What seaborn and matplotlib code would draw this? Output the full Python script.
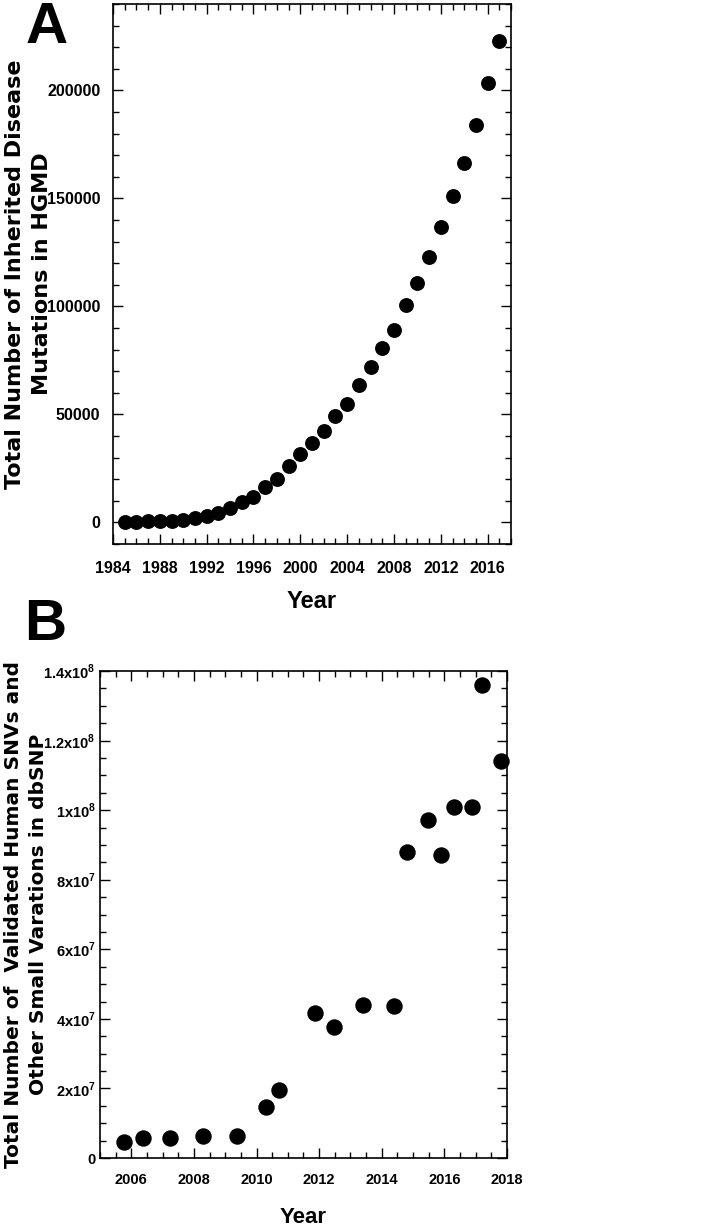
import matplotlib
matplotlib.use("Agg")
import matplotlib.pyplot as plt
import seaborn as sns
import pandas as pd
from matplotlib.ticker import MultipleLocator, FixedLocator, FixedFormatter

# ---- Panel A data (HGMD) ----
years_a = list(range(1985, 2018))
mutations_a = [0, 300, 500, 500, 700, 1250, 1900, 2800, 4300, 6700, 9400,
               11800, 16200, 20200, 26000, 31700, 37000, 42500, 49100, 55000,
               63500, 71800, 80800, 89300, 100900, 110700, 123000, 136700,
               151000, 166500, 183800, 203300, 222800]
xticks_a = [1984, 1988, 1992, 1996, 2000, 2004, 2008, 2012, 2016]
yticks_a = [0, 50000, 100000, 150000, 200000]

# ---- Panel B data (dbSNP) ----
years_b = [2005.77, 2006.38, 2007.24, 2008.30, 2009.39, 2010.30, 2010.72,
           2011.87, 2012.48, 2013.41, 2014.39, 2014.80, 2015.48, 2015.88,
           2016.31, 2016.87, 2017.19, 2017.80]
snvs_b = [4.5e6, 5.7e6, 5.7e6, 6.4e6, 6.4e6, 1.455e7, 1.96e7, 4.17e7, 3.78e7,
          4.40e7, 4.36e7, 8.80e7, 9.73e7, 8.72e7, 1.008e8, 1.008e8, 1.36e8,
          1.14e8]
xticks_b = [2006, 2008, 2010, 2012, 2014, 2016, 2018]
yticks_b = [0, 2e7, 4e7, 6e7, 8e7, 1e8, 1.2e8, 1.4e8]
yticklabels_b = ["0", "2x10$^{7}$", "4x10$^{7}$", "6x10$^{7}$", "8x10$^{7}$",
                 "1x10$^{8}$", "1.2x10$^{8}$", "1.4x10$^{8}$"]

sns.set_theme(style="ticks")
plt.rcParams["font.family"] = ["Liberation Sans", "DejaVu Sans"]
plt.rcParams["font.weight"] = "bold"
plt.rcParams["text.color"] = "black"
plt.rcParams["axes.labelcolor"] = "black"
plt.rcParams["xtick.color"] = "black"
plt.rcParams["ytick.color"] = "black"
plt.rcParams["mathtext.fontset"] = "custom"
plt.rcParams["mathtext.rm"] = "Liberation Sans:bold"
plt.rcParams["mathtext.bf"] = "Liberation Sans:bold"
plt.rcParams["axes.linewidth"] = 1.2

fig = plt.figure(figsize=(7.06, 12.27), dpi=100)
axA = fig.add_axes([0.160, 0.5566, 0.564, 0.4401])
axB = fig.add_axes([0.1416, 0.0562, 0.5765, 0.3969])

dfa = pd.DataFrame({"year": years_a, "n": mutations_a})
dfb = pd.DataFrame({"year": years_b, "n": snvs_b})

sns.scatterplot(data=dfa, x="year", y="n", ax=axA, color="black", s=115,
                edgecolor="black", linewidth=0, legend=False, clip_on=False)
sns.scatterplot(data=dfb, x="year", y="n", ax=axB, color="black", s=140,
                edgecolor="black", linewidth=0, legend=False, clip_on=False)

def style(ax):
    for sp in ax.spines.values():
        sp.set_visible(True)
        sp.set_color("black")
        sp.set_linewidth(1.2)
    ax.tick_params(which="both", direction="in", top=True, right=True,
                   color="black", width=1.0)
    ax.tick_params(which="major", length=7)
    ax.tick_params(which="minor", length=4)

# Panel A
axA.set_xlim(1984, 2018)
axA.set_ylim(-10000, 240000)
axA.xaxis.set_major_locator(FixedLocator(xticks_a))
axA.xaxis.set_minor_locator(MultipleLocator(1))
axA.yaxis.set_major_locator(FixedLocator(yticks_a))
axA.yaxis.set_minor_locator(MultipleLocator(10000))
axA.set_xticklabels([str(v) for v in xticks_a])
axA.set_yticklabels([str(v) for v in yticks_a])
style(axA)
axA.tick_params(axis="x", which="major", pad=12, labelsize=11.5)
axA.tick_params(axis="y", which="major", pad=9, labelsize=11.5)
axA.set_xlabel("Year", fontsize=17, fontweight="bold")
axA.set_ylabel("Total Number of Inherited Disease\nMutations in HGMD",
               fontsize=16, fontweight="bold", linespacing=1.45,
               family=["DejaVu Sans"])
axA.xaxis.set_label_coords(0.5, -0.085)
axA.yaxis.set_label_coords(-0.153, 0.5)

# Panel B
axB.set_xlim(2005, 2018)
axB.set_ylim(0, 1.4e8)
axB.xaxis.set_major_locator(FixedLocator(xticks_b))
axB.xaxis.set_minor_locator(MultipleLocator(0.5))
axB.yaxis.set_major_locator(FixedLocator(yticks_b))
axB.yaxis.set_minor_locator(MultipleLocator(5e6))
axB.set_xticklabels([str(v) for v in xticks_b])
axB.yaxis.set_major_formatter(FixedFormatter(yticklabels_b))
style(axB)
axB.tick_params(axis="x", which="major", pad=11, labelsize=10.5)
axB.tick_params(axis="y", which="major", pad=3, labelsize=10.5)
axB.set_xlabel("Year", fontsize=16, fontweight="bold")
axB.set_ylabel("Total Number of  Validated Human SNVs and\nOther Small Varations in dbSNP",
               fontsize=14.5, fontweight="bold", linespacing=1.4,
               family=["DejaVu Sans"])
axB.xaxis.set_label_coords(0.5, -0.1006)
axB.yaxis.set_label_coords(-0.128, 0.5)

fig.text(47 / 706, 1 - 43 / 1227, "A", fontsize=42, fontweight="bold",
         ha="center", va="baseline")
fig.text(45 / 706, 1 - 640 / 1227, "B", fontsize=42, fontweight="bold",
         ha="center", va="baseline")

fig.savefig("out.png", dpi=100)
